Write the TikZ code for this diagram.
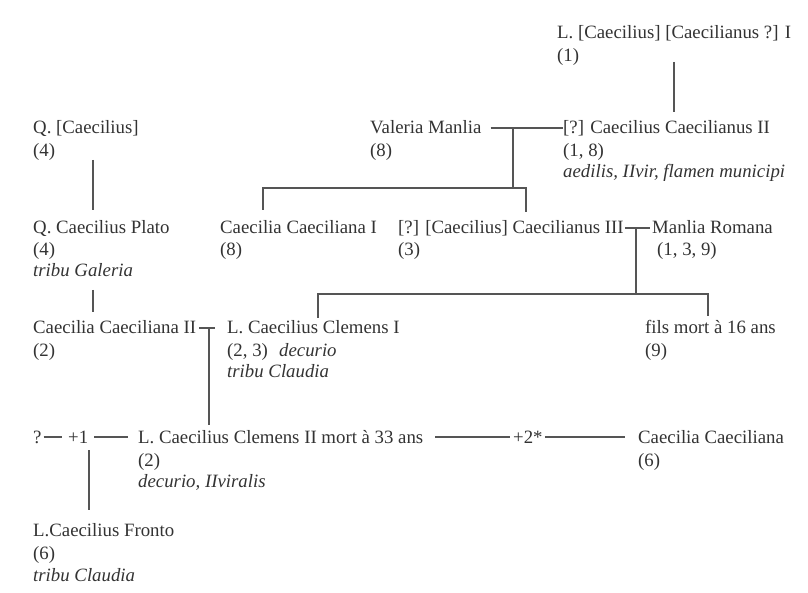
\documentclass[tikz,border=0pt]{standalone}
\usepackage{fontspec}
\setmainfont{Liberation Serif}
\definecolor{ink}{HTML}{333333}
\definecolor{lineg}{HTML}{555555}
\tikzset{
  txt/.style={anchor=base west, inner sep=0pt, text height=14pt, text depth=2pt, font=\fontsize{18.8}{22}\selectfont, text=ink},
  itx/.style={txt, font=\fontsize{18.8}{22}\selectfont\itshape},
  ln/.style={draw=lineg, line width=1.4pt}
}
\begin{document}
\begin{tikzpicture}[x=1pt,y=-1pt]
\useasboundingbox[fill=white] (0,0) rectangle (808,593);
% row 0
\node[txt] (l1) at (557,39) {L. [Caecilius] [Caecilianus ?] I};
\node[txt] (l1n) at (557,62) {(1)};
% row 1
\node[txt] (qc) at (33,134) {Q. [Caecilius]};
\node[txt] (qcn) at (33,157) {(4)};
\node[txt] (vm) at (370,134) {Valeria Manlia};
\node[txt] (vmn) at (370,157) {(8)};
\node[txt] (c2) at (563,134) {[?] Caecilius Caecilianus II};
\node[txt] (c2n) at (563,157) {(1, 8)};
\node[itx] (c2r) at (563,178) {aedilis, IIvir, flamen municipi};
% row 2
\node[txt] (pl) at (33,234) {Q. Caecilius Plato};
\node[txt] (pln) at (33,256) {(4)};
\node[itx] (plr) at (33,277) {tribu Galeria};
\node[txt] (cc1) at (220,234) {Caecilia Caeciliana I};
\node[txt] (cc1n) at (220,256) {(8)};
\node[txt] (c3) at (398,234) {[?] [Caecilius] Caecilianus III};
\node[txt] (c3n) at (398,256) {(3)};
\node[txt] (mr) at (652,234) {Manlia Romana};
\node[txt] (mrn) at (657,256) {(1, 3, 9)};
% row 3
\node[txt] (cc2) at (33,334) {Caecilia Caeciliana II};
\node[txt] (cc2n) at (33,356) {(2)};
\node[txt] (lc1) at (227,334) {L. Caecilius Clemens I};
\node[txt] (lc1n) at (227,356) {(2, 3)};
\node[itx] (lc1d) at (279,356) {decurio};
\node[itx] (lc1t) at (227,377) {tribu Claudia};
\node[txt] (fi) at (645,334) {fils mort à 16 ans};
\node[txt] (fin) at (645,356) {(9)};
% row 4
\node[txt] (q) at (33,443) {?};
\node[txt] (p1) at (68,443) {+1};
\node[txt] (lc2) at (138,443) {L. Caecilius Clemens II mort à 33 ans};
\node[txt] (lc2n) at (138,466) {(2)};
\node[itx] (lc2r) at (138,487) {decurio, IIviralis};
\node[txt] (p2) at (513,443) {+2*};
\node[txt] (cc) at (638,443) {Caecilia Caeciliana};
\node[txt] (ccn) at (638,466) {(6)};
% row 5
\node[txt] (fr) at (33,536) {L.Caecilius Fronto};
\node[txt] (frn) at (33,559) {(6)};
\node[itx] (frt) at (33,581) {tribu Claudia};
% junction coordinates
\coordinate (a1) at (674,62);
\coordinate (a2) at (674,112);
\coordinate (m1) at (513,128);
\coordinate (m1b) at (513,188);
\coordinate (s1l) at (263,188);
\coordinate (s1r) at (526,188);
\coordinate (m2) at (636,228);
\coordinate (m2b) at (636,294);
\coordinate (s2l) at (318,294);
\coordinate (s2r) at (708,294);
\coordinate (m3) at (209,328);
\coordinate (m3b) at (209,425);
\coordinate (m4) at (89,450);
\coordinate (m4b) at (89,510);
% connectors
\draw[ln] (a1) -- (a2);
\draw[ln] ([xshift=9pt]vm.east) -- (c2.west);
\draw[ln] (m1) -- (m1b);
\draw[ln] (263,210) -- (s1l) -- (s1r) -- (526,212);
\draw[ln] (93,160) -- (93,210);
\draw[ln] ([xshift=1pt]c3.east) -- ([xshift=-2pt]mr.west);
\draw[ln] (m2) -- (m2b);
\draw[ln] (318,318) -- (s2l) -- (s2r) -- (708,316);
\draw[ln] (93,290) -- (93,312);
\draw[ln] ([xshift=3pt]cc2.east) -- ([xshift=-12pt]lc1.west);
\draw[ln] (m3) -- (m3b);
\draw[ln] ([xshift=2pt]q.east) -- ([xshift=-6pt]p1.west);
\draw[ln] ([xshift=6pt]p1.east) -- ([xshift=-10pt]lc2.west);
\draw[ln] ([xshift=12pt]lc2.east) -- ([xshift=-3pt]p2.west);
\draw[ln] ([xshift=2pt]p2.east) -- ([xshift=-13pt]cc.west);
\draw[ln] (m4) -- (m4b);
\end{tikzpicture}
\end{document}
